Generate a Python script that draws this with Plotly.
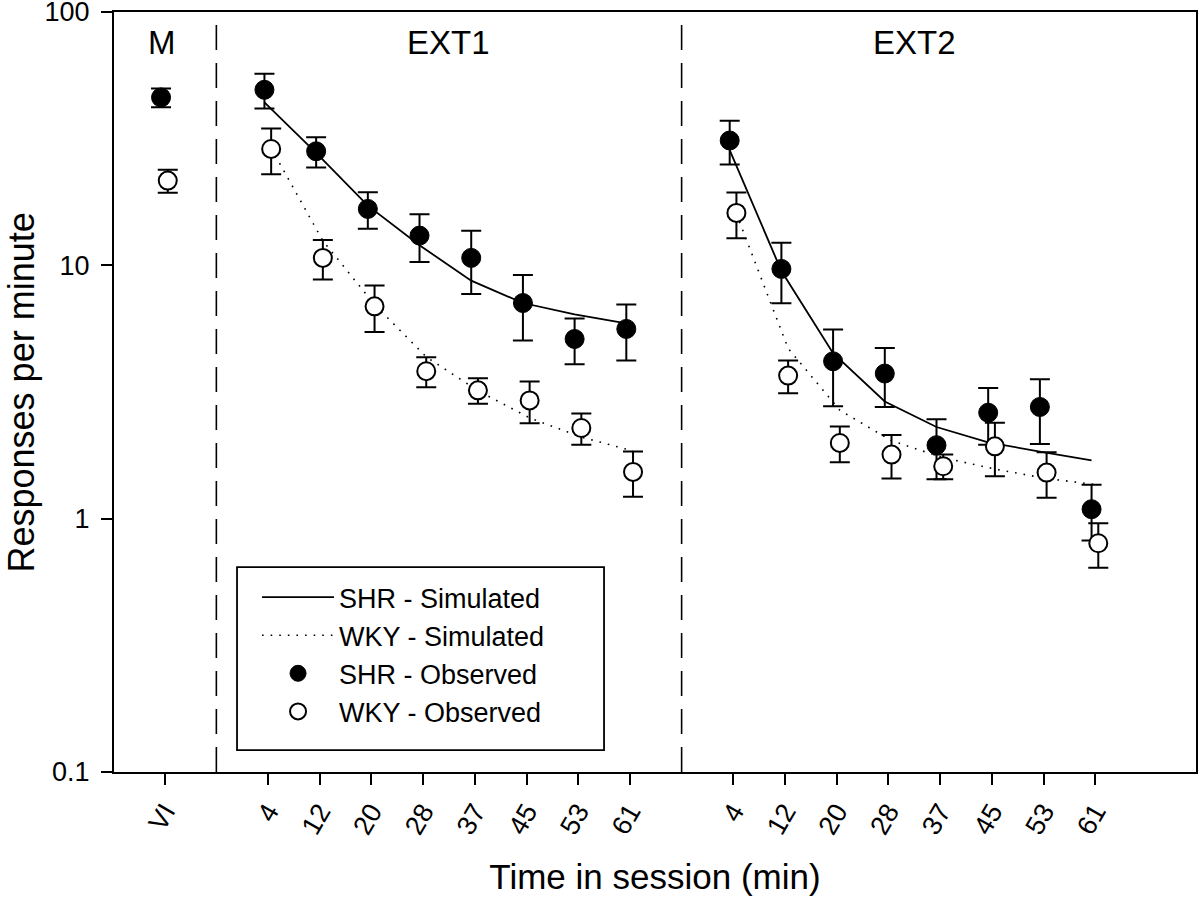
import plotly.graph_objects as go

# ---- data ----
tick_labels = ["VI", "4", "12", "20", "28", "37", "45", "53", "61",
               "4", "12", "20", "28", "37", "45", "53", "61"]
tick_pos = [0, 2, 3, 4, 5, 6, 7, 8, 9, 11, 12, 13, 14, 15, 16, 17, 18]

# observed means and errors (VI, EXT1 x8, EXT2 x8)
shr_obs = [46, 49.3, 28.2, 16.7, 13.1, 10.7, 7.1, 5.12, 5.61,
           31.1, 9.68, 4.18, 3.74, 1.95, 2.62, 2.76, 1.09]
shr_err = [3.9, 7.7, 3.85, 2.75, 2.8, 3.0, 2.05, 1.05, 1.4,
           6.1, 2.6, 1.4, 0.98, 0.52, 0.66, 0.79, 0.27]
wky_obs = [21.6, 28.8, 10.7, 6.89, 3.82, 3.21, 2.93, 2.28, 1.53,
           16.1, 3.67, 1.99, 1.79, 1.61, 1.93, 1.52, 0.80]
wky_err = [2.25, 5.9, 1.9, 1.43, 0.52, 0.37, 0.55, 0.32, 0.31,
           3.3, 0.54, 0.32, 0.35, 0.18, 0.46, 0.31, 0.16]

# simulated (EXT1 x8, EXT2 x8)
shr_sim_ext1 = [44, 27.8, 17.2, 12.0, 8.7, 7.1, 6.4, 5.9]
shr_sim_ext2 = [28.5, 9.5, 4.5, 2.9, 2.3, 2.0, 1.84, 1.7]
wky_sim_ext1 = [29, 12.5, 7.0, 4.35, 3.2, 2.5, 2.1, 1.85]
wky_sim_ext2 = [16, 4.7, 2.68, 2.03, 1.74, 1.57, 1.44, 1.36]

phase_labels = ["M", "EXT1", "EXT2"]
phase_centers = [-0.05, 5.5, 14.5]
dividers = [1, 10]

shr_dx = -0.07
wky_dx = 0.06

ext1_pos = tick_pos[1:9]
ext2_pos = tick_pos[9:]

FONT = "Arial, Liberation Sans, sans-serif"

fig = go.Figure()

# simulated lines
fig.add_trace(go.Scatter(
    x=[p + shr_dx for p in ext1_pos] + [None] + [p + shr_dx for p in ext2_pos],
    y=shr_sim_ext1 + [None] + shr_sim_ext2,
    mode="lines", name="SHR - Simulated",
    line=dict(color="black", width=1.8),
))
fig.add_trace(go.Scatter(
    x=[p + wky_dx for p in ext1_pos] + [None] + [p + wky_dx for p in ext2_pos],
    y=wky_sim_ext1 + [None] + wky_sim_ext2,
    mode="lines", name="WKY - Simulated",
    line=dict(color="black", width=1.6, dash="1.6px,7px"),
))

# observed
fig.add_trace(go.Scatter(
    x=[p + shr_dx for p in tick_pos], y=shr_obs,
    mode="markers", name="SHR - Observed",
    marker=dict(symbol="circle", size=19, color="black",
                line=dict(color="black", width=1)),
    error_y=dict(type="data", array=shr_err, visible=True,
                 color="black", thickness=2, width=10),
))
fig.add_trace(go.Scatter(
    x=[p + wky_dx for p in tick_pos], y=wky_obs,
    mode="markers", name="WKY - Observed",
    marker=dict(symbol="circle", size=18, color="white",
                line=dict(color="black", width=2)),
    error_y=dict(type="data", array=wky_err, visible=True,
                 color="black", thickness=2, width=10),
))

# phase dividers
for d in dividers:
    fig.add_shape(type="line", xref="x", yref="paper", x0=d, x1=d, y0=0, y1=1,
                  line=dict(color="black", width=1.6, dash="25px,13px"))

# legend frame
fig.add_shape(type="rect", xref="paper", yref="paper",
              x0=0.1137, x1=0.4529, y0=0.0289, y1=0.2697,
              line=dict(color="black", width=1.8), fillcolor="white", layer="below")

# phase labels
for lab, cx in zip(phase_labels, phase_centers):
    fig.add_annotation(x=cx, xref="x", y=0.96, yref="paper", text=lab,
                       showarrow=False, font=dict(family=FONT, size=33, color="black"),
                       yanchor="middle", xanchor="center")

# y axis title
fig.add_annotation(x=-0.0855, xref="paper", y=0.5, yref="paper",
                   text="Responses per minute", textangle=-90, showarrow=False,
                   font=dict(family=FONT, size=36, color="black"),
                   xanchor="center", yanchor="middle")

fig.update_layout(
    width=1200, height=901,
    margin=dict(l=114, r=4, t=12, b=129),
    paper_bgcolor="white", plot_bgcolor="white",
    font=dict(family=FONT, color="black"),
    showlegend=True,
    legend=dict(x=0.1322, y=0.2618, xanchor="left", yanchor="top",
                bgcolor="rgba(0,0,0,0)", borderwidth=0,
                font=dict(family=FONT, size=27, color="black"),
                itemwidth=72, tracegroupgap=0, itemsizing="trace"),
)

fig.update_xaxes(
    range=[-0.98, 19.95], tickmode="array", tickvals=tick_pos, ticktext=tick_labels,
    tickangle=-60, ticks="outside", ticklen=11, tickwidth=2, tickcolor="black",
    showline=True, linewidth=2, linecolor="black", mirror=True,
    showgrid=False, zeroline=False, ticklabeloverflow="allow", automargin=False,
    tickfont=dict(family=FONT, size=27, color="black"),
    title=dict(text="Time in session (min)", font=dict(family=FONT, size=35, color="black"),
               standoff=26),
)
fig.update_yaxes(
    type="log", range=[-1, 2], tickmode="array",
    tickvals=[0.1, 1, 10, 100], ticktext=["0.1", "1", "10", "100"],
    ticks="outside", ticklen=11, tickwidth=2, tickcolor="black",
    showline=True, linewidth=2, linecolor="black", mirror=True,
    showgrid=False, zeroline=False, ticklabeloverflow="allow", automargin=False,
    ticklabelstandoff=6,
    tickfont=dict(family=FONT, size=27, color="black"),
)

fig.write_html("out.html", config={"displayModeBar": False},
               post_script="document.body.style.margin='0';")
